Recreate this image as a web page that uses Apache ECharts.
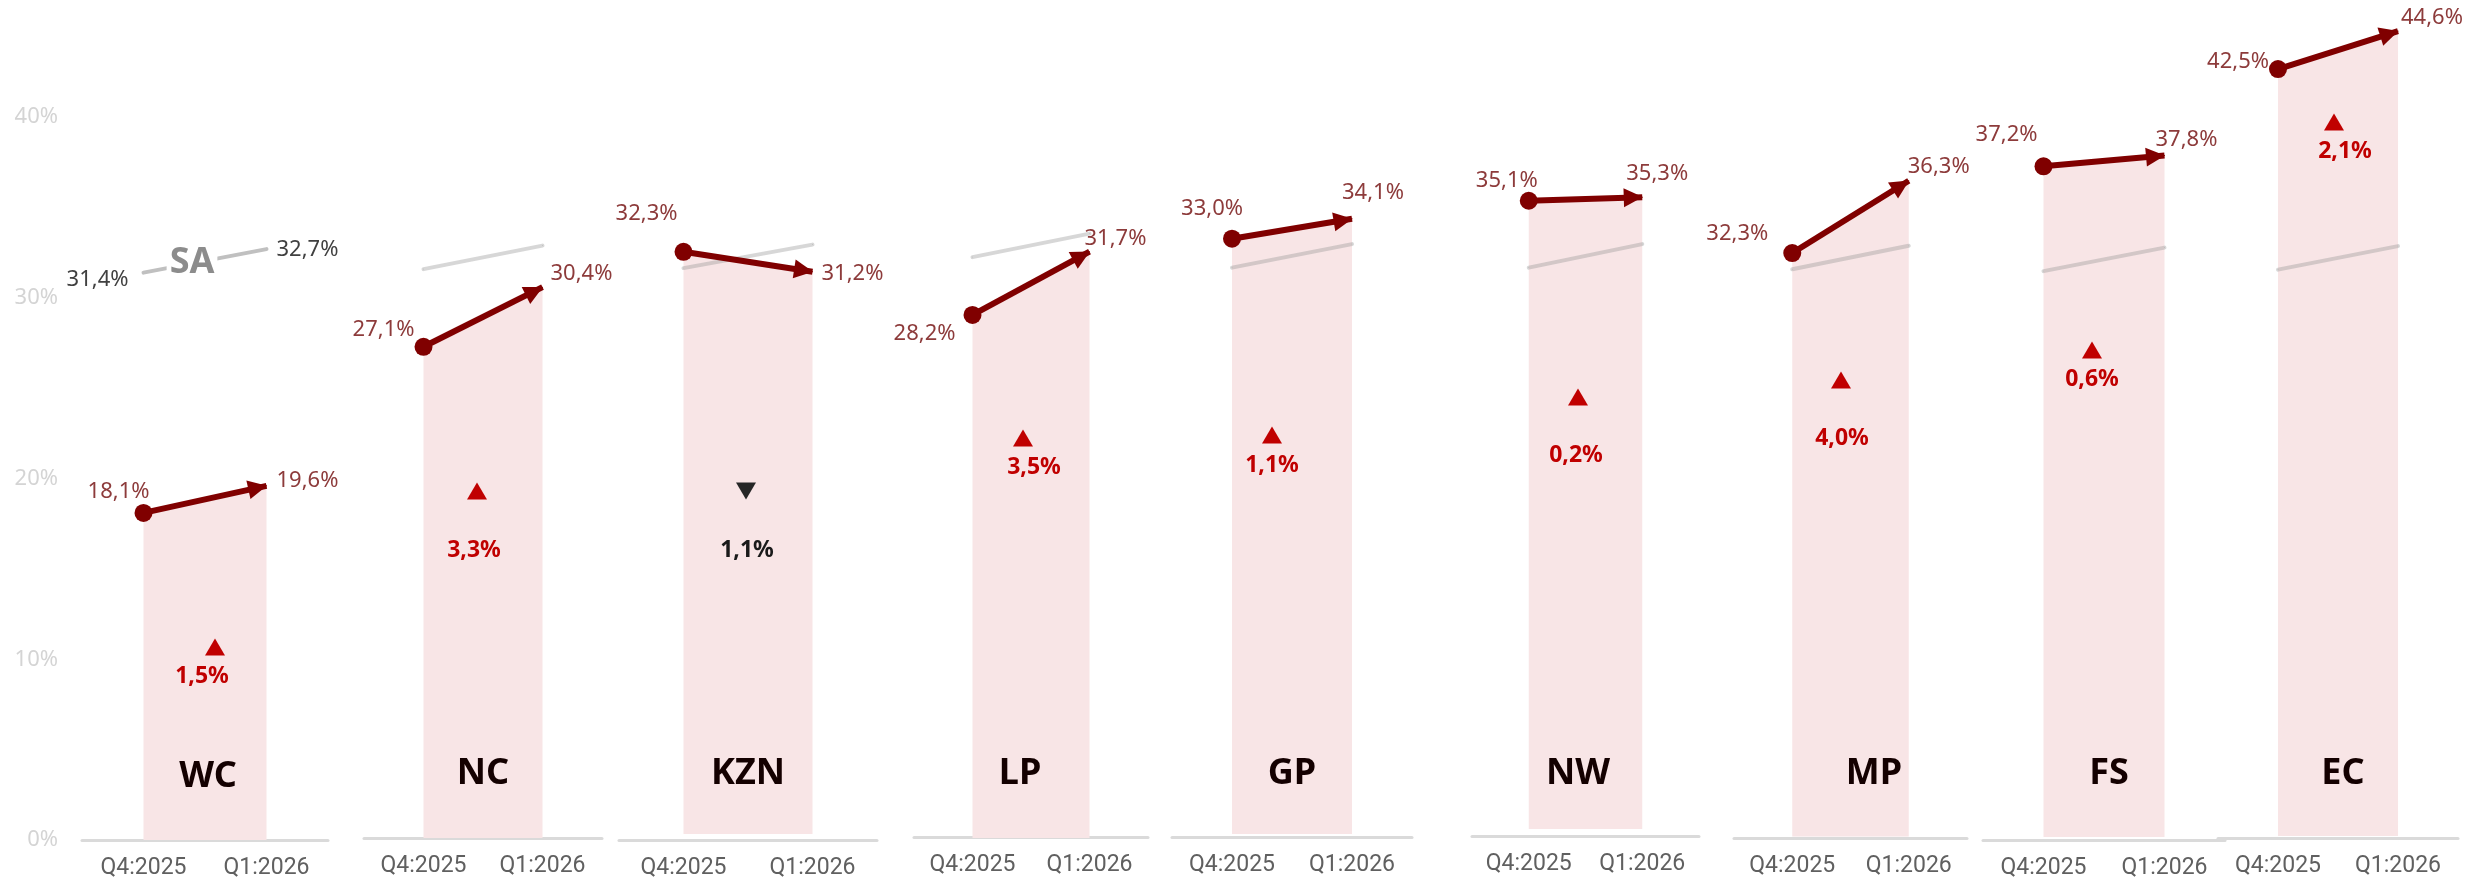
<!DOCTYPE html>
<html>
<head>
<meta charset="utf-8">
<script src="https://cdn.jsdelivr.net/npm/echarts@6/dist/echarts.min.js"></script>
<style>
html, body { margin: 0; padding: 0; background: #fff; }
#main { width: 2483px; height: 882px; }
</style>
</head>
<body>
<div id="main"></div>
<script>
// data
const provinces = ['WC', 'NC', 'KZN', 'LP', 'GP', 'NW', 'MP', 'FS', 'EC'];
const periods = ['Q4:2025', 'Q1:2026'];
const q4Values = [18.1, 27.1, 32.3, 28.2, 33.0, 35.1, 32.3, 37.2, 42.5];
const q1Values = [19.6, 30.4, 31.2, 31.7, 34.1, 35.3, 36.3, 37.8, 44.6];
const saValues = [31.4, 32.7];
const changeValues = [1.5, 3.3, -1.1, 3.5, 1.1, 0.2, 4.0, 0.6, 2.1];
const yTicks = [0, 10, 20, 30, 40];

// layout of the small panels (pixels)
const PX = 18.07; // pixels per percentage point
const axisLeft = [82, 364, 619, 914, 1172, 1472, 1734, 1983, 2218];
const axisRight = [328, 602, 877, 1148, 1412, 1699, 1967, 2225, 2458];
const zeroY = [840, 836.5, 835.5, 824.5, 835, 835, 836.7, 838.5, 837];
const areaBottom = [840, 838, 834, 838, 834, 829, 836.7, 837, 836];
const axisY = [840, 838, 840, 837, 837, 836, 838, 840, 838];
const q4LabelOffset = [[6, -21], [-9, -17], [-6, -38], [-17, 19], [11, -30], [9, -20], [-24, -19], [-6, -32], [-9, -7]];
const q1LabelOffset = [[10, -5], [8, -13], [9, 2], [-5, -13], [-10, -26], [-16, -23], [-1, -14], [-9, -16], [3, -13]];
const triPos = [[215, 647], [477, 491], [746, 491], [1023, 438], [1272, 435], [1578, 397], [1841, 380], [2092, 350], [2334, 122]];
const deltaPos = [[202, 676], [474, 550], [747, 550], [1034, 467], [1272, 465], [1576, 455], [1842, 438], [2092, 379], [2345, 151]];
const namePos = [[208, 777], [483, 774], [748, 774], [1020, 774], [1292, 774], [1578, 774], [1874, 774], [2109, 774], [2343, 774]];

const fmt = v => v.toFixed(1).replace('.', ',') + '%';

const chart = echarts.init(document.getElementById('main'));

const grids = [], xAxes = [], yAxes = [], series = [];

provinces.forEach((p, i) => {
    const bottom = areaBottom[i];
    const yMin = i === 0 ? 0 : (zeroY[i] - areaBottom[i]) / PX;
    grids.push({ left: axisLeft[i], width: axisRight[i] - axisLeft[i], top: 0, height: bottom });
    xAxes.push({
        type: 'category', gridIndex: i, data: periods, boundaryGap: true,
        offset: axisY[i] - bottom,
        axisLine: { show: true, onZero: false, lineStyle: { color: '#dadada', width: 3 } },
        axisTick: { show: false },
        axisLabel: { color: '#606060', fontFamily: 'Roboto', fontSize: 23, margin: 17 }
    });
    yAxes.push({
        type: 'value', gridIndex: i, min: yMin, max: yMin + bottom / PX,
        interval: i === 0 ? 10 : null,
        splitLine: { show: false }, axisLine: { show: false }, axisTick: { show: false },
        axisLabel: {
            show: i === 0, color: '#d4d4d4', fontFamily: 'Noto Sans', fontSize: 22, margin: 24,
            formatter: v => yTicks.indexOf(v) >= 0 ? v + '%' : ''
        }
    });

    series.push({
        type: 'line', xAxisIndex: i, yAxisIndex: i, z: 2, silent: true,
        data: [
            { value: q4Values[i], symbol: 'circle', symbolSize: 18, label: { align: 'right', offset: q4LabelOffset[i] } },
            { value: q1Values[i], symbol: 'circle', symbolSize: 1, label: { align: 'left', offset: q1LabelOffset[i] } }
        ],
        itemStyle: { color: '#800000' },
        lineStyle: { width: 0, color: 'rgba(0,0,0,0)' },
        areaStyle: { color: '#f8e5e6', opacity: 1, origin: 'start' },
        label: {
            show: true, position: 'inside', verticalAlign: 'middle',
            color: '#8d3b3b', fontFamily: 'Noto Sans', fontSize: 22,
            formatter: d => fmt(d.value)
        },
        markLine: {
            silent: true, symbol: ['none', 'triangle'], symbolSize: 19,
            symbolOffset: [[0, 0], [0, 9]],
            itemStyle: { color: '#800000' },
            lineStyle: { color: '#800000', width: 6, type: 'solid', opacity: 1 },
            label: { show: false },
            data: [[{ coord: [periods[0], q4Values[i]] }, { coord: [periods[1], q1Values[i]] }]]
        }
    });

    series.push({
        type: 'line', xAxisIndex: i, yAxisIndex: i, z: 3, silent: true,
        data: saValues,
        symbol: 'circle', symbolSize: 1,
        itemStyle: { color: i === 0 ? '#c0c0c0' : 'rgba(150,150,150,0.38)' },
        lineStyle: { color: i === 0 ? '#c0c0c0' : 'rgba(150,150,150,0.38)', width: 4, cap: 'round' },
        label: i === 0 ? {
            show: true, position: 'inside', verticalAlign: 'middle',
            color: '#404040', fontFamily: 'Noto Sans', fontSize: 22,
            formatter: d => fmt(d.value)
        } : { show: false },
        labelLayout: i === 0 ? (params => params.dataIndex === 0
            ? { align: 'right', dx: -15, dy: 7 }
            : { align: 'left', dx: 10, dy: 1 }) : null
    });
});

chart.setOption({
    animation: false,
    grid: grids,
    xAxis: xAxes,
    yAxis: yAxes,
    series: series
});

// annotations
const graphics = [];
provinces.forEach((p, i) => {
    const up = changeValues[i] >= 0;
    const col = up ? '#c00000' : '#262626';
    graphics.push({
        type: 'polygon', x: triPos[i][0], y: triPos[i][1], z: 10,
        shape: { points: up ? [[-10, 8.5], [10, 8.5], [0, -8.5]] : [[-10, -8.5], [10, -8.5], [0, 8.5]] },
        style: { fill: col }
    });
    graphics.push({
        type: 'text', x: deltaPos[i][0], y: deltaPos[i][1], z: 10,
        style: {
            text: fmt(Math.abs(changeValues[i])), fill: up ? '#c00000' : '#1a1a1a',
            fontFamily: 'Noto Sans', fontSize: 23, fontWeight: 'bold',
            align: 'center', verticalAlign: 'middle'
        }
    });
    graphics.push({
        type: 'text', x: namePos[i][0], y: namePos[i][1], z: 10,
        style: {
            text: p, fill: '#140000', fontFamily: 'Noto Sans', fontSize: 36, fontWeight: 'bold',
            align: 'center', verticalAlign: 'middle'
        }
    });
});

// SA label on the national line in the first panel
const a = chart.convertToPixel({ gridIndex: 0 }, [periods[0], saValues[0]]);
const b = chart.convertToPixel({ gridIndex: 0 }, [periods[1], saValues[1]]);
graphics.push({
    type: 'text', x: (a[0] + b[0]) / 2 - 13, y: (a[1] + b[1]) / 2 + 2, z: 10,
    style: {
        text: 'SA', fill: '#8c8c8c', fontFamily: 'Noto Sans', fontSize: 36, fontWeight: 'bold',
        align: 'center', verticalAlign: 'middle', backgroundColor: '#fff', padding: [0, 3]
    }
});

chart.setOption({ graphic: graphics });
</script>
</body>
</html>
